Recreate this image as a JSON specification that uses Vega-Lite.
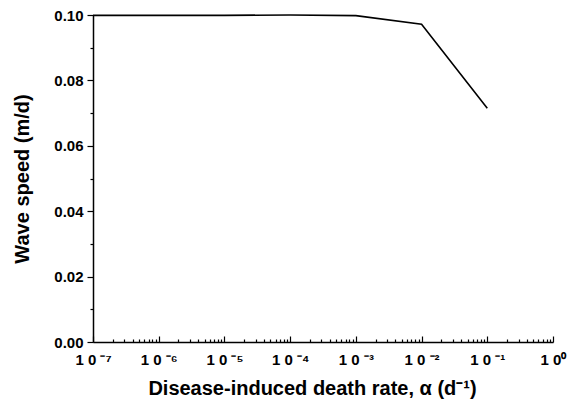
{
  "$schema": "https://vega.github.io/schema/vega-lite/v6.json",
  "width": 460,
  "height": 327,
  "autosize": {"type": "none"},
  "padding": {"left": 93, "top": 15, "right": 28, "bottom": 57},
  "background": "white",
  "config": {
    "view": {"stroke": null},
    "font": "Liberation Sans",
    "axis": {
      "domainColor": "black",
      "domainWidth": 1.5,
      "tickColor": "black",
      "tickWidth": 1.2,
      "labelColor": "black",
      "titleColor": "black",
      "labelFont": "Liberation Sans",
      "titleFont": "Liberation Sans",
      "labelFontWeight": "bold",
      "titleFontWeight": "bold",
      "grid": false
    }
  },
  "data": {
    "values": [
      {"rate": 1e-7, "speed": 0.0999},
      {"rate": 1e-6, "speed": 0.0999},
      {"rate": 1e-5, "speed": 0.0999},
      {"rate": 1e-4, "speed": 0.1},
      {"rate": 1e-3, "speed": 0.0998},
      {"rate": 1e-2, "speed": 0.0972},
      {"rate": 1e-1, "speed": 0.0715}
    ]
  },
  "mark": {"type": "line", "color": "black", "strokeWidth": 1.6},
  "encoding": {
    "x": {
      "field": "rate",
      "type": "quantitative",
      "scale": {"type": "log", "domain": [1e-7, 1], "nice": false},
      "axis": {
        "title": "Disease-induced death rate, α  (d⁻¹)",
        "titleFontSize": 20,
        "titlePadding": 8,
        "titleX": 219,
        "labelFontSize": 15,
        "labelPadding": 16,
        "labelFlush": false,
        "labelOverlap": false,
        "values": [1e-7,2e-7,3e-7,4e-7,5e-7,6e-7,7e-7,8e-7,9e-7,
                   1e-6,2e-6,3e-6,4e-6,5e-6,6e-6,7e-6,8e-6,9e-6,
                   1e-5,2e-5,3e-5,4e-5,5e-5,6e-5,7e-5,8e-5,9e-5,
                   1e-4,2e-4,3e-4,4e-4,5e-4,6e-4,7e-4,8e-4,9e-4,
                   1e-3,2e-3,3e-3,4e-3,5e-3,6e-3,7e-3,8e-3,9e-3,
                   1e-2,2e-2,3e-2,4e-2,5e-2,6e-2,7e-2,8e-2,9e-2,
                   1e-1,2e-1,3e-1,4e-1,5e-1,6e-1,7e-1,8e-1,9e-1,1],
        "labelExpr": "abs(log(datum.value)/LN10 - round(log(datum.value)/LN10)) < 1e-6 ? ['1 0⁰','1 0 ⁻¹','1 0 ⁻²','1 0 ⁻³','1 0 ⁻⁴','1 0 ⁻⁵','1 0 ⁻⁶','1 0 ⁻⁷'][-round(log(datum.value)/LN10)] : ''",
        "tickSize": {
          "condition": {"test": "abs(log(datum.value)/LN10 - round(log(datum.value)/LN10)) < 1e-6", "value": -6},
          "value": -3
        }
      }
    },
    "y": {
      "field": "speed",
      "type": "quantitative",
      "scale": {"domain": [0, 0.1], "nice": false, "zero": true},
      "axis": {
        "title": "Wave speed (m/d)",
        "titleFontSize": 20,
        "titlePadding": 21,
        "labelFontSize": 15,
        "labelPadding": 4,
        "labelFlush": false,
        "values": [0, 0.01, 0.02, 0.03, 0.04, 0.05, 0.06, 0.07, 0.08, 0.09, 0.1],
        "labelExpr": "round(datum.value*100) % 2 == 0 ? format(datum.value, '.2f') : ''",
        "tickSize": {
          "condition": {"test": "round(datum.value*100) % 2 == 0", "value": 6},
          "value": 3
        }
      }
    }
  }
}
